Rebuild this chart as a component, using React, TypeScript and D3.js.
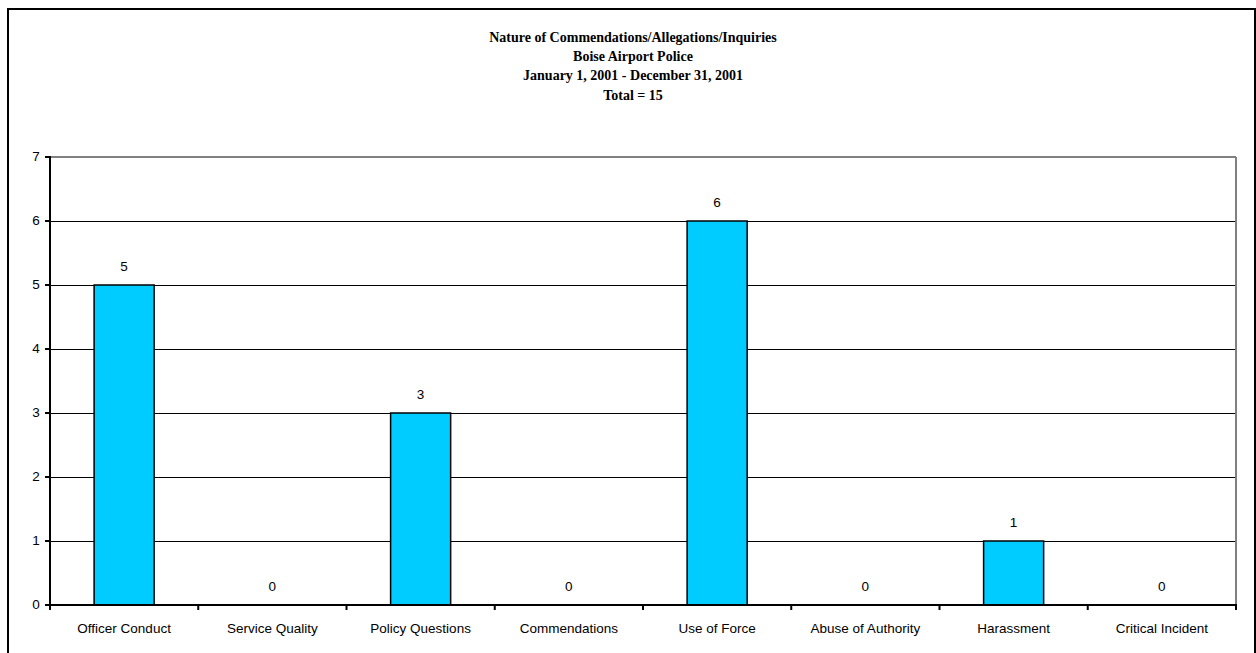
import React from "react";
import * as d3 from "d3";

const categories = [
  "Officer Conduct",
  "Service Quality",
  "Policy Questions",
  "Commendations",
  "Use of Force",
  "Abuse of Authority",
  "Harassment",
  "Critical Incident",
];
const values = [5, 0, 3, 0, 6, 0, 1, 0];
const yTicks = [0, 1, 2, 3, 4, 5, 6, 7];
const titleLines = [
  "Nature of Commendations/Allegations/Inquiries",
  "Boise Airport Police",
  "January 1, 2001 - December 31, 2001",
  "Total = 15",
];

export default function App() {
  const W = 1256;
  const H = 653;
  const left = 50;
  const right = 1236;
  const top = 157;
  const bottom = 605;

  const x = d3.scaleBand<string>().domain(categories).range([left, right]).paddingInner(0).paddingOuter(0);
  const y = d3.scaleLinear().domain([0, 7]).range([bottom, top]);
  const bw = x.bandwidth();
  const barW = bw * 0.405;
  const titleY = [39, 58, 77, 97];
  const sans = "Liberation Sans, Arial, sans-serif";

  return (
    <svg width={W} height={H} style={{ position: "absolute", left: 0, top: 0, background: "#fff" }}>
      <rect x={8} y={9} width={1247} height={660} fill="#fff" stroke="#000" strokeWidth={2} />
      {titleLines.map((t, i) => (
        <text
          key={i}
          x={633}
          y={titleY[i]}
          textAnchor="middle"
          dominantBaseline="middle"
          fontFamily="Liberation Serif, Times New Roman, serif"
          fontWeight="bold"
          fontSize={14}
        >
          {t}
        </text>
      ))}
      {/* gridlines */}
      {yTicks.filter((t) => t > 0 && t < 7).map((t) => (
        <line key={t} x1={left} x2={right} y1={Math.round(y(t)) + 0.5} y2={Math.round(y(t)) + 0.5} stroke="#000" strokeWidth={1} />
      ))}
      {/* plot border gray top/right */}
      <line x1={left} x2={right} y1={y(7)} y2={y(7)} stroke="#808080" strokeWidth={2} />
      <line x1={right} x2={right} y1={y(7)} y2={bottom} stroke="#808080" strokeWidth={2} />
      {/* bars */}
      {categories.map((c, i) => {
        const cx = (x(c) as number) + bw / 2;
        const v = values[i];
        return (
          <g key={c}>
            {v > 0 && (
              <rect
                x={cx - barW / 2}
                y={y(v)}
                width={barW}
                height={bottom - y(v)}
                fill="#00CCFF"
                stroke="#000"
                strokeWidth={1.5}
              />
            )}
            <text
              x={cx}
              y={y(v) - 18}
              textAnchor="middle"
              dominantBaseline="middle"
              fontFamily={sans}
              fontSize={13.5}
            >
              {v}
            </text>
            <text
              x={cx}
              y={629}
              textAnchor="middle"
              dominantBaseline="middle"
              fontFamily={sans}
              fontSize={13.5}
            >
              {c}
            </text>
          </g>
        );
      })}
      {/* y axis */}
      <line x1={left} x2={left} y1={y(7) - 1} y2={bottom + 1} stroke="#000" strokeWidth={2} />
      {yTicks.map((t) => (
        <g key={t}>
          <line x1={left - 5} x2={left} y1={y(t)} y2={y(t)} stroke="#000" strokeWidth={2} />
          <text
            x={36}
            y={y(t)}
            textAnchor="middle"
            dominantBaseline="middle"
            fontFamily={sans}
            fontSize={13.5}
          >
            {t}
          </text>
        </g>
      ))}
      {/* x axis */}
      <line x1={left} x2={right + 1} y1={bottom} y2={bottom} stroke="#000" strokeWidth={2} />
      {categories.map((c) => (
        <line key={c} x1={x(c) as number} x2={x(c) as number} y1={bottom} y2={bottom + 5} stroke="#000" strokeWidth={2} />
      ))}
      <line x1={right} x2={right} y1={bottom} y2={bottom + 5} stroke="#000" strokeWidth={2} />
    </svg>
  );
}
